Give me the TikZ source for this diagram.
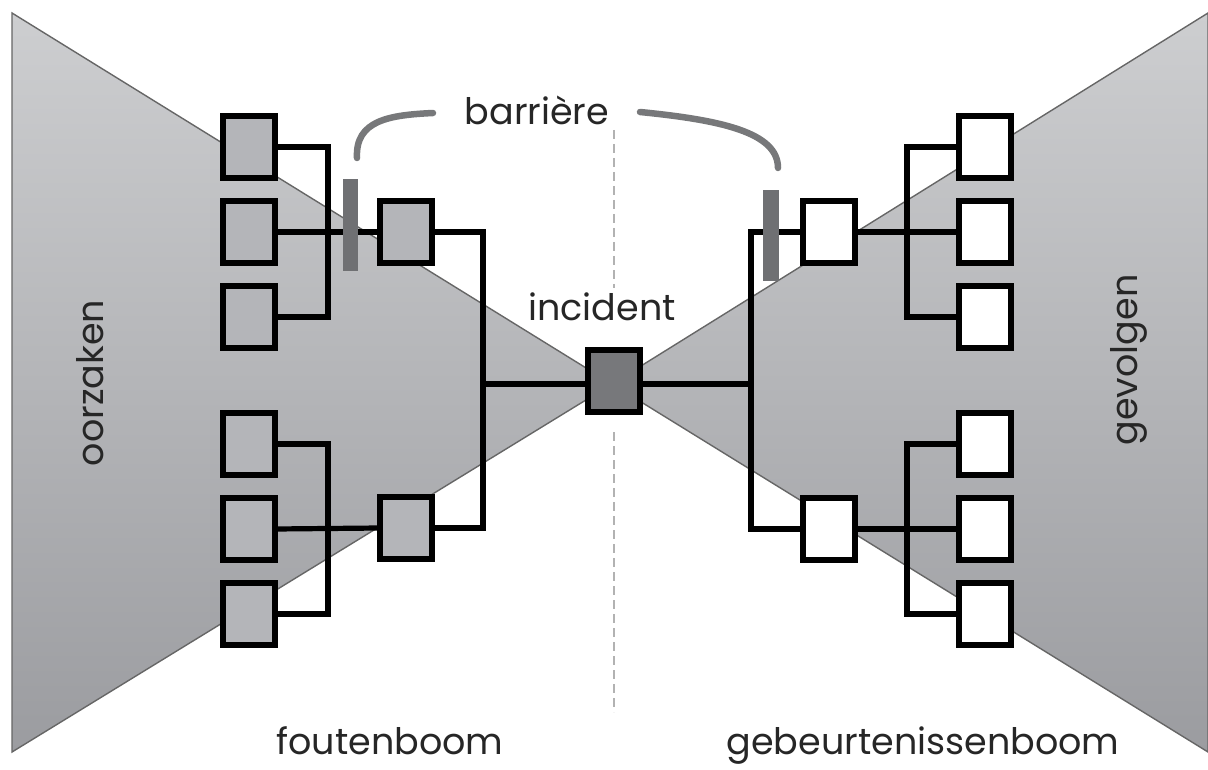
\documentclass[tikz,border=0pt]{standalone}
\usepackage{fontspec}
\setmainfont{Poppins}
\begin{document}
\begin{tikzpicture}[x=1pt,y=-1pt,
  fan/.style={draw=black!60,line width=1.4pt,top color=fanTop,bottom color=fanBot},
  boxL/.style={draw=black,line width=4pt,fill=boxGray,minimum width=50pt,minimum height=60pt,inner sep=0pt},
  boxR/.style={boxL,fill=white},
  boxI/.style={boxL,fill=incGray},
  wire/.style={draw=black,line width=5.2pt},
  wireT/.style={draw=black,line width=5.6pt},
  barrier/.style={fill=barGray,minimum width=15pt,minimum height=92pt,inner sep=0pt},
  brace/.style={draw=braceGray,line width=6.5pt,line cap=round},
  axis/.style={draw=black!30,line width=1.6pt,dash pattern=on 9pt off 5pt},
  lbl/.style={font=\fontsize{36.5}{40}\selectfont,text=black!85,anchor=base,inner sep=0pt}]
\definecolor{fanTop}{HTML}{CDCED0}
\definecolor{fanBot}{HTML}{9B9CA0}
\definecolor{boxGray}{HTML}{B4B5B9}
\definecolor{incGray}{HTML}{77787B}
\definecolor{barGray}{HTML}{6F7073}
\definecolor{braceGray}{HTML}{77787A}

\useasboundingbox (0,0) rectangle (1208,770);

% the two fans of the bow tie
\path[fan] (12,13) -- (612,384) -- (12,752) -- cycle;
\path[fan] (1208,13) -- (612,384) -- (1208,752) -- cycle;

% centre axis
\draw[axis] (614,130) -- (614,288);
\draw[axis] (614,432) -- (614,712);

% causes (fault tree)
\node[boxL] (c1) at (249,147) {};
\node[boxL] (c2) at (249,232) {};
\node[boxL] (c3) at (249,317) {};
\node[boxL] (c4) at (249,444) {};
\node[boxL] (c5) at (249,529) {};
\node[boxL] (c6) at (249,614) {};
\node[boxL] (m1) at (406,232) {};
\node[boxL] (m2) at (406,528) {};

% consequences (event tree)
\node[boxR] (n1) at (829,232) {};
\node[boxR] (n2) at (829,529) {};
\node[boxR] (r1) at (985,147) {};
\node[boxR] (r2) at (985,232) {};
\node[boxR] (r3) at (985,317) {};
\node[boxR] (r4) at (985,444) {};
\node[boxR] (r5) at (985,529) {};
\node[boxR] (r6) at (985,614) {};

% top event
\node[boxI] (inc) at (614,381) {};

% junction points
\coordinate (jl1) at (328,232);
\coordinate (jl2) at (328,529);
\coordinate (jm)  at (483,384);
\coordinate (jn)  at (751,384);
\coordinate (jr1) at (907,232);
\coordinate (jr2) at (907,529);

% wiring, left side
\draw[wire] (c1.east) -| (jl1) |- (c3.east);
\draw[wire] (c2.east) -- (m1.west);
\draw[wire] (c4.east) -| (jl2) |- (c6.east);
\draw[wire] (c5.east) -- (m2.west);
\draw[wire] (m1.east) -| (jm) |- (m2.east);
\draw[wire] (jm) -- (inc.west |- jm);
% wiring, right side
\draw[wireT] (inc.east |- jn) -- (jn);
\draw[wireT] (n1.west) -| (jn) |- (n2.west);
\draw[wireT] (r1.west) -| (jr1) |- (r3.west);
\draw[wireT] (n1.east) -- (r2.west);
\draw[wireT] (r4.west) -| (jr2) |- (r6.west);
\draw[wireT] (n2.east) -- (r5.west);

% box outlines on top of the wires
\foreach \b in {c1,c2,c3,c4,c5,c6,m1,m2,n1,n2,r1,r2,r3,r4,r5,r6,inc}
  \draw[line width=4pt] (\b.south west) rectangle (\b.north east);

% barriers
\node[barrier] (b1) at (350.5,225.5) {};
\node[barrier,minimum width=16pt,minimum height=91pt] (b2) at (771,236) {};
\coordinate (bl) at (357,158);
\coordinate (br) at (778,168);

% labels
\node[lbl] (tb) at (537,125) {barrière};
\node[lbl] (ti) at (602,320) {incident};
\node[lbl] (tf) at (390,754) {foutenboom};
\node[lbl] (tg) at (923,754) {gebeurtenissenboom};
\node[lbl,rotate=90] (to) at (103,383) {oorzaken};
\node[lbl,rotate=90] (tv) at (1137,360) {gevolgen};

% brace from the label to both barriers
\draw[brace] (bl) .. controls (355,120) and (390,115) .. (433,113);
\draw[brace] (640,112) .. controls (720,120) and (778,132) .. (br);
\end{tikzpicture}
\end{document}
